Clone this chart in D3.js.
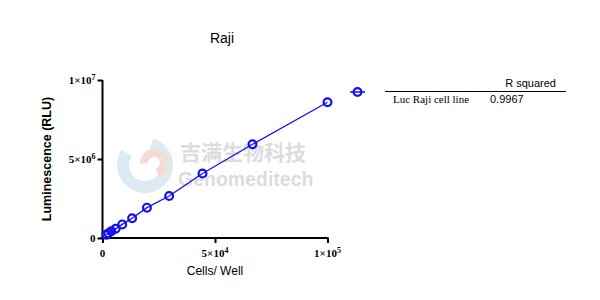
<!DOCTYPE html>
<html>
<head>
<meta charset="utf-8">
<script src="https://cdn.jsdelivr.net/npm/d3@7"></script>
<style>
  body { margin: 0; background: #fff; }
  svg { display: block; }
</style>
</head>
<body>
<div id="graph"></div>
<script>
// cells per well vs luminescence (RLU)
var cells = [100000, 66667, 44444, 29630, 19753, 13169, 8779, 5853, 3902, 2601, 1734];
var lum = [8.59e6, 5.93e6, 4.08e6, 2.66e6, 1.92e6, 1.25e6, 0.86e6, 0.58e6, 0.43e6, 0.30e6, 0.20e6];

var xTicks = [0, 5e4, 1e5];
var xTickLabels = [["0", ""], ["5×10", "4"], ["1×10", "5"]];
var yTicks = [0, 5e6, 1e7];
var yTickLabels = [["0", ""], ["5×10", "6"], ["1×10", "7"]];

var seriesName = "Luc Raji cell line";
var rSquared = "0.9967";

var width = 600;
var height = 300;
var blue = "#1010f0";
var serif = "'Liberation Serif', 'Times New Roman', serif";
var sans = "'Liberation Sans', Arial, sans-serif";

var svg = d3.select("#graph").
  append("svg").
  attr("width", width).
  attr("height", height);

var xScale = d3.scaleLinear().domain([0, 1e5]).range([102.5, 327.5]);
var yScale = d3.scaleLinear().domain([0, 1e7]).range([238, 80]);

// watermark
var wm = svg.append("g");
var arc = d3.arc();
wm.append("path").
  attr("transform", "translate(145,165)").
  attr("d", arc({innerRadius: 16, outerRadius: 28, startAngle: 0.3, endAngle: 5.3})).
  attr("fill", "#dcebf3");
wm.append("path").
  attr("transform", "translate(154,163)").
  attr("d", arc({innerRadius: 6, outerRadius: 14, startAngle: -1.6, endAngle: 2.8})).
  attr("fill", "#f6d8d4");
wm.append("path").
  attr("transform", "translate(156,168)").
  attr("d", arc({innerRadius: 10, outerRadius: 13, startAngle: 0.3, endAngle: 2.6})).
  attr("fill", "#e1eed8");
wm.append("text").
  attr("x", 180).
  attr("y", 160).
  style("font-family", "'Noto Sans CJK SC', sans-serif").
  style("font-weight", "bold").
  style("font-size", "21px").
  style("fill", "#dcdcdc").
  text("吉满生物科技");
wm.append("text").
  attr("x", 178).
  attr("y", 186).
  style("font-family", sans).
  style("font-weight", "bold").
  style("font-size", "19.5px").
  style("fill", "#dcdcdc").
  text("Genomeditech");

// axes
var xAxis = d3.axisBottom(xScale).tickValues(xTicks).tickSize(5).tickFormat("");
var yAxis = d3.axisLeft(yScale).tickValues(yTicks).tickSize(5).tickFormat("");

var gx = svg.append("g").
  attr("transform", "translate(0," + yScale(0) + ")").
  call(xAxis);
gx.select(".domain").attr("d", "M" + (xScale(0) - 2) + ",0H" + (xScale(1e5) + 1));

var gy = svg.append("g").
  attr("transform", "translate(" + xScale(0) + ",0)").
  call(yAxis);
gy.select(".domain").attr("d", "M0," + (yScale(0) + 1) + "V" + yScale(1e7));

svg.selectAll(".domain, .tick line").
  attr("stroke", "#000").
  attr("stroke-width", 2);

function tickText(g, parts) {
  g.append("tspan").text(parts[0]);
  if (parts[1]) {
    g.append("tspan").
      attr("dy", -4).
      style("font-size", "8px").
      text(parts[1]);
  }
}

xTicks.forEach(function (v, i) {
  var t = svg.append("text").
    attr("x", xScale(v)).
    attr("y", yScale(0) + 19).
    style("text-anchor", "middle").
    style("font-family", serif).
    style("font-weight", "bold").
    style("font-size", "11px");
  tickText(t, xTickLabels[i]);
});

yTicks.forEach(function (v, i) {
  var t = svg.append("text").
    attr("x", xScale(0) - 7).
    attr("y", yScale(v) + 4).
    style("text-anchor", "end").
    style("font-family", serif).
    style("font-weight", "bold").
    style("font-size", "11px");
  tickText(t, yTickLabels[i]);
});

// line and markers
var pts = cells.map(function (c, i) { return [c, lum[i]]; });
var line = d3.line().
  x(function (d) { return xScale(d[0]); }).
  y(function (d) { return yScale(d[1]); });

svg.append("path").
  datum(pts).
  attr("d", line).
  attr("fill", "none").
  attr("stroke", blue).
  attr("stroke-width", 1.3);

svg.selectAll("circle.dot").
  data(pts).
  enter().
  append("circle").
  attr("class", "dot").
  attr("cx", function (d) { return xScale(d[0]); }).
  attr("cy", function (d) { return yScale(d[1]); }).
  attr("r", 3.9).
  attr("fill", "none").
  attr("stroke", blue).
  attr("stroke-width", 2.2);

// titles
svg.append("text").
  attr("x", 222).
  attr("y", 43).
  style("text-anchor", "middle").
  style("font-family", sans).
  style("font-size", "14px").
  text("Raji");

svg.append("text").
  attr("x", 215).
  attr("y", 275).
  style("text-anchor", "middle").
  style("font-family", sans).
  style("font-size", "12px").
  text("Cells/ Well");

svg.append("text").
  attr("transform", "translate(51," + yScale(5e6) + ") rotate(-90)").
  style("text-anchor", "middle").
  style("font-family", sans).
  style("font-weight", "bold").
  style("font-size", "12.5px").
  text("Luminescence (RLU)");

// legend
svg.append("path").
  attr("d", "M350,92H365").
  attr("stroke", blue).
  attr("stroke-width", 1.5);
svg.append("circle").
  attr("cx", 357.5).
  attr("cy", 92).
  attr("r", 3.9).
  attr("fill", "none").
  attr("stroke", blue).
  attr("stroke-width", 2.2);

svg.append("line").
  attr("x1", 385).
  attr("x2", 566).
  attr("y1", 91.5).
  attr("y2", 91.5).
  attr("stroke", "#000").
  attr("stroke-width", 1);

svg.append("text").
  attr("x", 556).
  attr("y", 87).
  style("text-anchor", "end").
  style("font-family", sans).
  style("font-size", "11px").
  text("R squared");

svg.append("text").
  attr("x", 393).
  attr("y", 103).
  style("font-family", serif).
  style("font-size", "11px").
  text(seriesName);

svg.append("text").
  attr("x", 490).
  attr("y", 103).
  style("font-family", sans).
  style("font-size", "11px").
  text(rSquared);
</script>
</body>
</html>
